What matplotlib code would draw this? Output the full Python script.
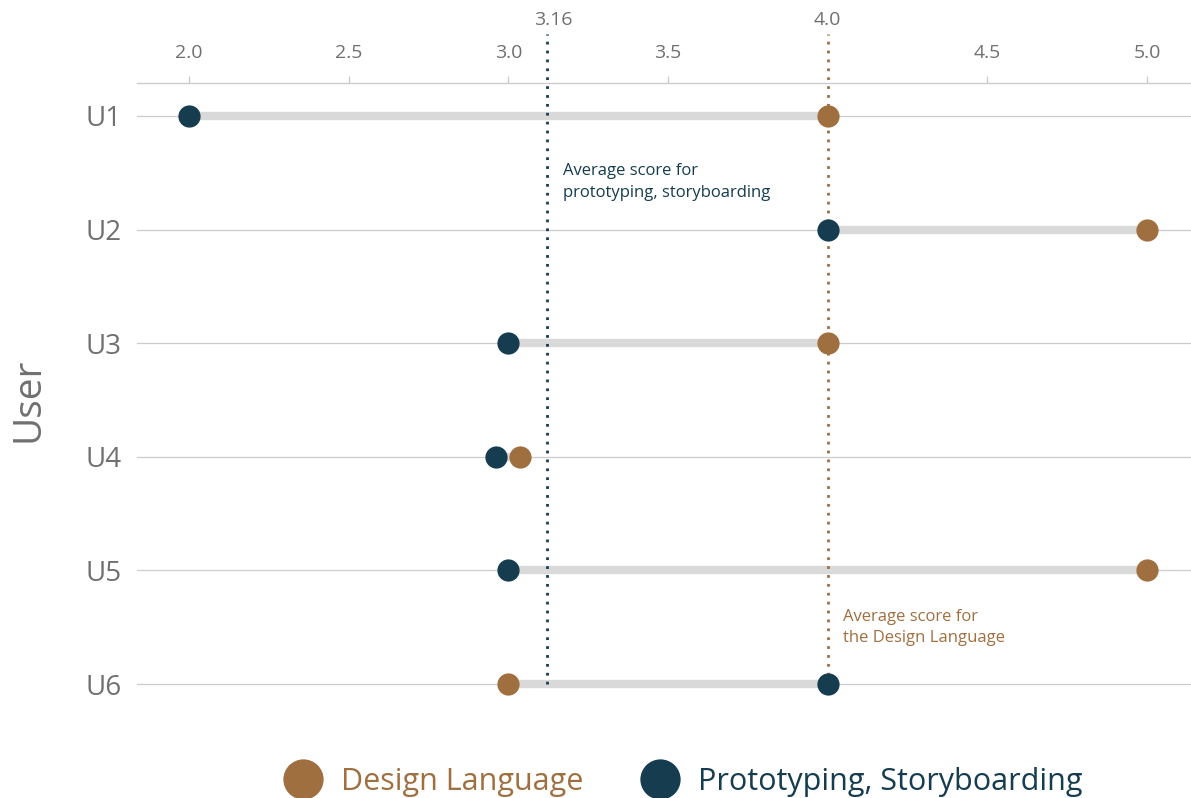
import matplotlib
matplotlib.use("Agg")
import matplotlib.pyplot as plt
from matplotlib.lines import Line2D
import matplotlib.transforms as mtransforms

users = ["U1", "U2", "U3", "U4", "U5", "U6"]
design_language = [4.0, 5.0, 4.0, 3.0, 5.0, 3.0]
prototyping = [2.0, 4.0, 3.0, 3.0, 3.0, 4.0]
tie_nudge = 0.038  # visual dodge applied when both scores are equal
avg_lines = [3.12, 4.0]
avg_labels = ["3.16", "4.0"]
x_ticks = [2.0, 2.5, 3.0, 3.5, 4.5, 5.0]

BROWN = "#a06f40"
DARK = "#153c4f"
GRAY_TXT = "#707070"
SEG = "#d9d9d9"
GRID = "#cccccc"

plt.rcParams["font.family"] = ["Open Sans", "DejaVu Sans"]

fig = plt.figure(figsize=(11.91, 7.98), dpi=100)
ax = fig.add_axes([137 / 1191, 1 - 717 / 798, 1 - 137 / 1191, 634 / 798])

ys = list(range(len(users)))
for y, d, p in zip(ys, design_language, prototyping):
    ax.axhline(y, color=GRID, lw=0.9, zorder=0)
    dd, pp = d, p
    if d == p:
        dd, pp = d + tie_nudge, p - tie_nudge
    ax.plot([pp, dd], [y, y], color=SEG, lw=6, solid_capstyle="butt", zorder=1)
    ax.plot([dd], [y], "o", color=BROWN, ms=16, mew=0, zorder=3)
    ax.plot([pp], [y], "o", color=DARK, ms=16, mew=0, zorder=3)

ax.set_xlim(2.0 - 52 / 319, 5.0 + 44 / 319)
ax.set_ylim(len(users) - 1 + 0.29, -0.29)

trans = mtransforms.blended_transform_factory(ax.transData, ax.transAxes)
y_bottom = 0.29 / (len(users) - 1 + 0.58)
for xv, lab, col in zip(avg_lines, avg_labels, [DARK, BROWN]):
    ax.plot([xv, xv], [y_bottom, 1.078], transform=trans, color=col, lw=2,
            ls=(0, (1, 2.2)), clip_on=False, zorder=2)
xlab_offsets = [0.02, 0.0]
for xv, lab, off in zip(avg_lines, avg_labels, xlab_offsets):
    ax.text(xv + off, 1.1, lab, transform=trans, ha="center", va="center",
            fontsize=14, color=GRAY_TXT)

ax.text(3.171, 0.58, "Average score for\nprototyping, storyboarding", color=DARK,
        fontsize=12, ha="left", va="center", linespacing=1.45)
ax.text(4.047, 4.5, "Average score for\nthe Design Language", color=BROWN,
        fontsize=12, ha="left", va="center", linespacing=1.45)

ax.xaxis.tick_top()
ax.set_xticks(x_ticks)
ax.set_xticklabels([f"{v:.1f}" for v in x_ticks])
ax.tick_params(axis="x", colors=GRID, labelcolor=GRAY_TXT, labelsize=14,
               length=5, width=1, pad=10)
ax.set_yticks(ys)
ax.set_yticklabels(users)
ax.tick_params(axis="y", length=0, labelcolor=GRAY_TXT, labelsize=20, pad=11)
for s in ["left", "right", "bottom"]:
    ax.spines[s].set_visible(False)
ax.spines["top"].set_color(GRID)
ax.spines["top"].set_linewidth(1)
ax.set_ylabel("User", fontsize=28, color=GRAY_TXT, labelpad=27)

handles = [
    Line2D([], [], marker="o", ls="", color=BROWN, ms=29, mew=0),
    Line2D([], [], marker="o", ls="", color=DARK, ms=29, mew=0),
]
leg = fig.legend(handles, ["Design Language", "Prototyping, Storyboarding"],
                 loc="center", bbox_to_anchor=(0.573, 0.02), ncol=2, frameon=False,
                 fontsize=22, handletextpad=0.6, columnspacing=1.85, handlelength=1.3)
for t, c in zip(leg.get_texts(), [BROWN, DARK]):
    t.set_color(c)

fig.savefig("out.png", dpi=100)
